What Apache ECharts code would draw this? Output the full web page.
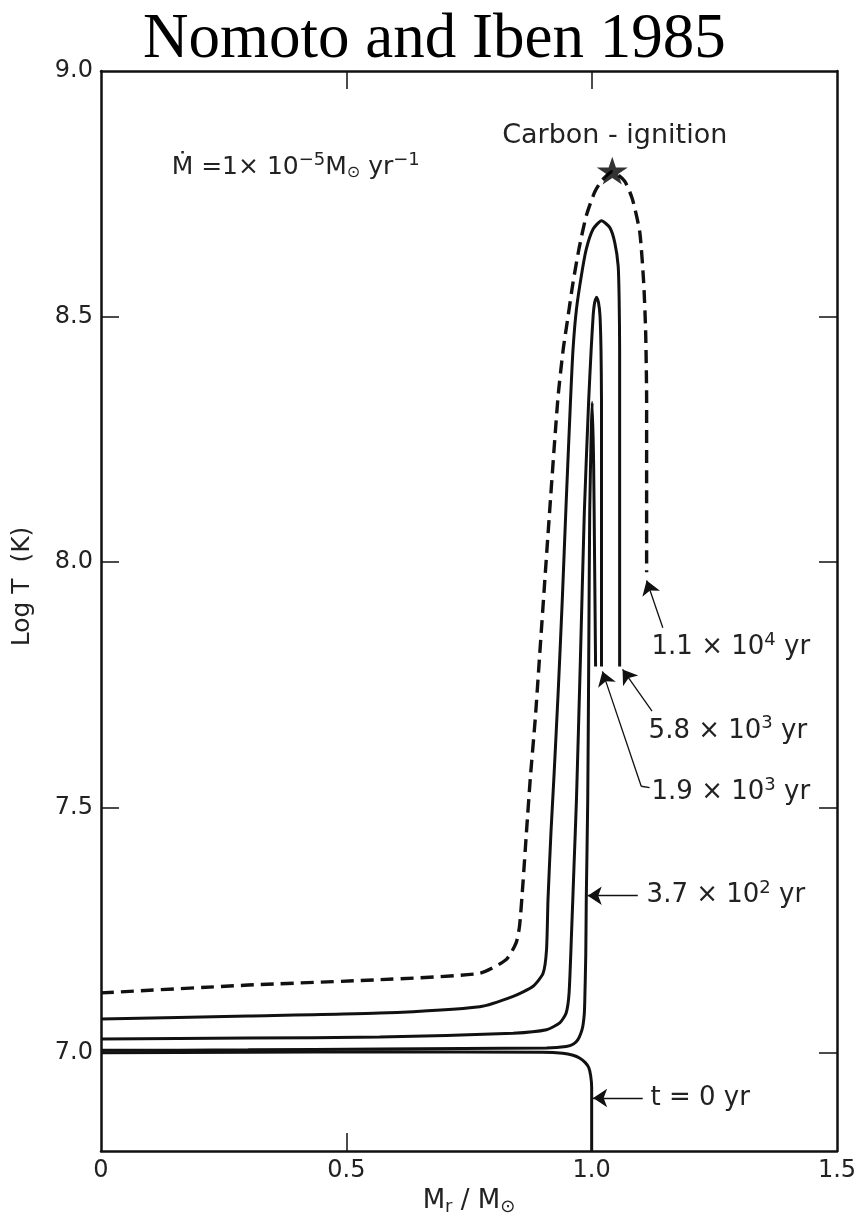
<!DOCTYPE html>
<html>
<head>
<meta charset="utf-8">
<script src="https://cdn.jsdelivr.net/npm/echarts@6/dist/echarts.min.js"></script>
<style>
  html, body { margin: 0; padding: 0; background: #ffffff; overflow: hidden; }
  #chart { width: 854px; height: 1216px; }
</style>
</head>
<body>
<div id="chart"></div>
<script>
// Axis ticks and labels
const xLabelValues = [0, 0.5, 1.0, 1.5];
const xTickValues = [0.5, 1.0];
const yLabelValues = [7.0, 7.5, 8.0, 8.5, 9.0];
const yTickValues = [7.0, 7.5, 8.0, 8.5];

// Temperature profiles log T (K) against M_r / M_sun, one per elapsed time
const profile_t0 = [
  [0, 7.000], [0.3, 7.001], [0.568, 7.002], [0.9, 7.001], [0.941, 6.999],
  [0.962, 6.995], [0.976, 6.989], [0.987, 6.980], [0.994, 6.970],
  [0.998, 6.953], [1.000, 6.930], [1.000, 6.800]
];
const profile_370yr = [
  [0, 7.005], [0.3, 7.006], [0.568, 7.008], [0.908, 7.010], [0.948, 7.013],
  [0.963, 7.018], [0.972, 7.027], [0.978, 7.040], [0.982, 7.054],
  [0.985, 7.080], [0.986, 7.108], [0.988, 7.200], [0.989, 7.312],
  [0.992, 7.516], [0.994, 7.800], [0.996, 8.100], [0.999, 8.260],
  [1.001, 8.325], [1.004, 8.200], [1.006, 8.000], [1.008, 7.787]
];
const profile_1900yr = [
  [0, 7.028], [0.3, 7.030], [0.568, 7.032], [0.840, 7.040], [0.908, 7.047],
  [0.935, 7.061], [0.948, 7.081], [0.954, 7.122], [0.959, 7.244],
  [0.964, 7.380], [0.969, 7.516], [0.977, 7.800], [0.985, 8.100],
  [0.994, 8.331], [0.999, 8.433], [1.003, 8.501], [1.006, 8.528],
  [1.010, 8.539], [1.014, 8.528], [1.017, 8.501], [1.019, 8.433],
  [1.020, 8.331], [1.020, 7.787]
];
const profile_5800yr = [
  [0, 7.069], [0.3, 7.075], [0.568, 7.081], [0.772, 7.094], [0.840, 7.115],
  [0.880, 7.135], [0.901, 7.162], [0.908, 7.210], [0.911, 7.312],
  [0.917, 7.448], [0.923, 7.560], [0.932, 7.740], [0.940, 7.920],
  [0.948, 8.120], [0.957, 8.331], [0.962, 8.433], [0.969, 8.515],
  [0.979, 8.583], [0.989, 8.637], [1.003, 8.678], [1.020, 8.695],
  [1.037, 8.681], [1.047, 8.651], [1.054, 8.603], [1.056, 8.535],
  [1.057, 8.433], [1.057, 8.331], [1.057, 7.787]
];
const profile_11000yr = [
  [0, 7.122], [0.3, 7.138], [0.568, 7.149], [0.772, 7.162], [0.826, 7.190],
  [0.846, 7.224], [0.853, 7.258], [0.860, 7.346], [0.867, 7.448],
  [0.875, 7.560], [0.885, 7.680], [0.894, 7.810], [0.912, 8.070],
  [0.931, 8.331], [0.942, 8.433], [0.952, 8.501], [0.962, 8.569],
  [0.974, 8.637], [0.989, 8.705], [1.006, 8.753], [1.020, 8.776],
  [1.042, 8.795], [1.067, 8.776], [1.083, 8.739], [1.098, 8.672],
  [1.106, 8.569], [1.110, 8.470], [1.112, 8.331], [1.112, 7.979]
];
const carbonIgnition = [[1.042, 8.797]];

// Age labels and the arrows pointing at each profile
const ageLabelText = [
  '1.1 × 10{sup|4} yr',
  '5.8 × 10{sup|3} yr',
  '1.9 × 10{sup|3} yr',
  '3.7 × 10{sup|2} yr',
  't = 0 yr'
];
const ageLabelAt = [[1.122, 7.826], [1.116, 7.656], [1.122, 7.530], [1.112, 7.320], [1.120, 6.908]];
const arrowSegments = [
  [[1.145, 7.866], [1.112, 7.962]],
  [[1.123, 7.696], [1.063, 7.781]],
  [[1.101, 7.543], [1.022, 7.777]],
  [[1.094, 7.320], [0.992, 7.320]],
  [[1.104, 6.908], [1.003, 6.908]]
];
const leaderSegments = [
  [[1.118, 7.540], [1.101, 7.543]]
];

const INK = '#111111';
const FONT = 'DejaVu Sans';
const STAR = 'path://M50,0 L61.2,34.5 L97.6,34.5 L68.2,55.9 L79.4,90.5 L50,69.1 L20.6,90.5 L31.8,55.9 L2.4,34.5 L38.8,34.5 Z';

const chart = echarts.init(document.getElementById('chart'), null, { renderer: 'canvas', width: 854, height: 1216 });

function frameAxis(extra) {
  return Object.assign({
    type: 'value',
    splitLine: { show: false },
    axisLine: { show: true, onZero: false, lineStyle: { color: INK, width: 2.5 } },
    axisTick: { show: true, inside: true, length: 18, lineStyle: { color: INK, width: 1.5 } },
    axisLabel: { show: false }
  }, extra);
}

function profileSeries(name, data, dashed) {
  return {
    name: name,
    type: 'line',
    data: data,
    showSymbol: false,
    smooth: 0.2,
    silent: true,
    lineStyle: { color: INK, width: dashed ? 3.4 : 3, type: dashed ? [13, 7] : 'solid', cap: 'butt' },
    z: 3
  };
}

function segmentSeries(name, segs, withHead) {
  return {
    name: name,
    type: 'lines',
    coordinateSystem: 'cartesian2d',
    silent: true,
    symbol: withHead ? ['none', 'arrow'] : ['none', 'none'],
    symbolSize: [8, 14],
    lineStyle: { color: INK, width: 1.3, opacity: 1, curveness: 0 },
    data: segs.map(p => ({ coords: p })),
    z: 4
  };
}

const tickFmt = v => (v === 0 ? '0' : v.toFixed(1));

chart.setOption({
  animation: false,
  backgroundColor: '#ffffff',
  title: {
    text: 'Nomoto and Iben 1985',
    left: 138,
    top: 4,
    textStyle: { fontFamily: 'Liberation Serif', fontSize: 63, fontWeight: 'normal', color: '#000' }
  },
  grid: { left: 101, right: 17, top: 71, bottom: 65, containLabel: false, outerBoundsMode: 'none' },
  xAxis: [
    frameAxis({
      min: 0, max: 1.5, interval: 0.5, position: 'bottom',
      axisTick: { show: true, inside: true, length: 18, customValues: xTickValues, lineStyle: { color: INK, width: 1.5 } },
      axisLabel: { show: true, customValues: xLabelValues, formatter: tickFmt, fontFamily: FONT, fontSize: 24, color: '#222', margin: 8 },
      name: 'M{sub|r} / M{sub|⊙}',
      nameLocation: 'middle',
      nameGap: 32,
      nameTextStyle: {
        fontFamily: FONT, fontSize: 26, color: '#222',
        rich: { sub: { fontFamily: FONT, fontSize: 18, color: '#222', padding: [12, 0, 0, 0] } }
      }
    }),
    frameAxis({
      min: 0, max: 1.5, interval: 0.5, position: 'top',
      axisTick: { show: true, inside: true, length: 18, customValues: xTickValues, lineStyle: { color: INK, width: 1.5 } }
    })
  ],
  yAxis: [
    frameAxis({
      min: 6.8, max: 9.0, position: 'left',
      axisTick: { show: true, inside: true, length: 18, customValues: yTickValues, lineStyle: { color: INK, width: 1.5 } },
      axisLabel: { show: true, customValues: yLabelValues, formatter: tickFmt, fontFamily: FONT, fontSize: 24, color: '#222', margin: 8, padding: [5, 0, 0, 0] }
    }),
    frameAxis({
      min: 6.8, max: 9.0, position: 'right',
      axisTick: { show: true, inside: true, length: 18, customValues: yTickValues, lineStyle: { color: INK, width: 1.5 } }
    })
  ],
  series: [
    profileSeries('t = 0 yr', profile_t0, false),
    profileSeries('3.7e2 yr', profile_370yr, false),
    profileSeries('1.9e3 yr', profile_1900yr, false),
    profileSeries('5.8e3 yr', profile_5800yr, false),
    profileSeries('1.1e4 yr', profile_11000yr, true),
    segmentSeries('age arrows', arrowSegments, true),
    segmentSeries('age leaders', leaderSegments, false),
    {
      name: 'carbon ignition',
      type: 'scatter',
      data: carbonIgnition,
      symbol: STAR,
      symbolKeepAspect: true,
      symbolSize: [31, 29],
      itemStyle: { color: '#000' },
      silent: true,
      z: 5
    }
  ]
});

// Text annotations placed in data coordinates
const px = pt => chart.convertToPixel({ gridIndex: 0 }, pt);
const richSup = {
  sup: { fontFamily: FONT, fontSize: 18, fill: '#222', padding: [0, 0, 14, 0] },
  sub: { fontFamily: FONT, fontSize: 16, fill: '#222', padding: [12, 0, 0, 0] }
};
const graphics = [];
ageLabelText.forEach((t, i) => {
  const p = px(ageLabelAt[i]);
  graphics.push({
    type: 'text', x: p[0], y: p[1], silent: true,
    style: {
      text: t, rich: richSup, fontFamily: FONT, fontSize: 26, fill: '#222',
      align: 'left', verticalAlign: 'middle', textAlign: 'left', textVerticalAlign: 'middle'
    }
  });
});
const cPos = px([1.047, 8.867]);
graphics.push({
  type: 'text', x: cPos[0], y: cPos[1], silent: true,
  style: {
    text: 'Carbon - ignition', fontFamily: FONT, fontSize: 27, fill: '#222',
    align: 'center', verticalAlign: 'middle', textAlign: 'center', textVerticalAlign: 'middle'
  }
});
const mPos = px([0.144, 8.804]);
graphics.push({
  type: 'text', x: mPos[0], y: mPos[1], silent: true,
  style: {
    text: 'Ṁ =1× 10{sup|−5}M{sub|⊙} yr{sup|−1}', rich: richSup, fontFamily: FONT, fontSize: 25, fill: '#222',
    align: 'left', verticalAlign: 'middle', textAlign: 'left', textVerticalAlign: 'middle'
  }
});
const yName = px([0, 7.95]);
graphics.push({
  type: 'text', x: 22, y: yName[1], rotation: Math.PI / 2, silent: true,
  style: {
    text: 'Log T  (K)', fontFamily: FONT, fontSize: 25, fill: '#222',
    align: 'center', verticalAlign: 'middle', textAlign: 'center', textVerticalAlign: 'middle'
  }
});
chart.setOption({ graphic: graphics });
</script>
</body>
</html>
